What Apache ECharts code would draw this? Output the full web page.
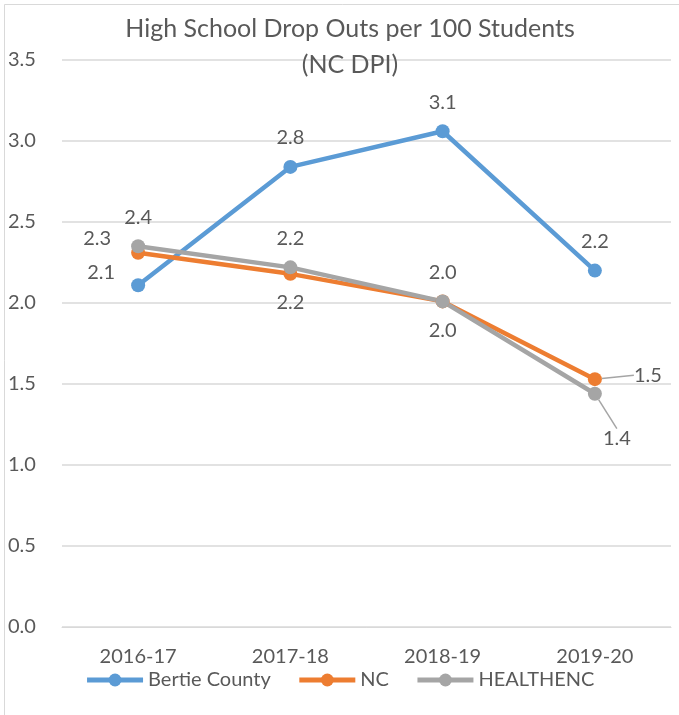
<!DOCTYPE html>
<html>
<head>
<meta charset="utf-8">
<script src="https://cdn.jsdelivr.net/npm/echarts@6/dist/echarts.min.js"></script>
<style>
  html, body { margin: 0; padding: 0; background: #fff; }
  #main { width: 679px; height: 715px; }
</style>
</head>
<body>
<div id="main"></div>
<script>
// data
const years = ['2016-17', '2017-18', '2018-19', '2019-20'];
const bertie = [2.11, 2.84, 3.06, 2.20];
const nc = [2.31, 2.18, 2.01, 1.53];
const healthenc = [2.35, 2.22, 2.01, 1.44];
const yTicks = [0, 0.5, 1.0, 1.5, 2.0, 2.5, 3.0, 3.5];

// where each point's label sits, per series
const bertiePos = ['left', 'top', 'top', 'top'];
const ncPos = ['left', 'bottom', 'bottom', 'right'];
const healthPos = ['top', 'top', 'top', 'bottom'];

const textColor = '#595959';
const font = 'Lato, "Open Sans", sans-serif';

function points(values, pos, moved) {
    return values.map((v, i) => {
        let item = { value: v, label: { position: pos[i] } };
        if (moved[i] && moved[i][2]) {
            item.labelLine = { show: true };
        }
        return item;
    });
}

// moved: per point [dx, dy, leader line?]
function makeSeries(name, values, pos, color, moved) {
    return {
        name: name,
        type: 'line',
        data: points(values, pos, moved),
        symbol: 'circle',
        symbolSize: 14,
        lineStyle: { width: 4.5, color: color },
        itemStyle: { color: color },
        label: {
            show: true,
            formatter: (p) => p.value.toFixed(1),
            color: textColor,
            fontSize: 20,
            fontFamily: font,
            distance: 12
        },
        labelLine: { show: false, lineStyle: { color: '#a5a5a5', width: 1.5 } },
        labelLayout: function (params) {
            let m = moved[params.dataIndex];
            if (m) {
                return { dx: m[0], dy: m[1] };
            }
            return {};
        },
        emphasis: { disabled: true }
    };
}

const myChart = echarts.init(document.getElementById('main'));
const option = {
    animation: false,
    backgroundColor: '#fff',
    title: {
        text: 'High School Drop Outs per 100 Students\n(NC DPI)',
        left: 345,
        textAlign: 'center',
        top: 6,
        textStyle: {
            color: textColor,
            fontSize: 25,
            fontWeight: 'normal',
            fontFamily: font,
            lineHeight: 36
        }
    },
    graphic: [{
        type: 'rect',
        shape: { x: 4.5, y: 4.5, width: 800, height: 800 },
        style: { fill: 'none', stroke: '#d9d9d9', lineWidth: 1 },
        silent: true,
        z: -1
    }],
    legend: {
        bottom: 20,
        left: 'center',
        itemWidth: 56,
        itemHeight: 16,
        itemGap: 26,
        lineStyle: { width: 5 },
        textStyle: { color: textColor, fontSize: 20, fontFamily: font },
        data: ['Bertie County', 'NC', 'HEALTHENC']
    },
    grid: { left: 62, right: 8, top: 60, bottom: 88 },
    xAxis: {
        type: 'category',
        data: years,
        axisLine: { lineStyle: { color: '#d9d9d9' } },
        axisTick: { show: false },
        axisLabel: { color: textColor, fontSize: 20, fontFamily: font, margin: 20 }
    },
    yAxis: {
        type: 'value',
        min: yTicks[0],
        max: yTicks[yTicks.length - 1],
        interval: 0.5,
        axisLine: { show: false },
        axisTick: { show: false },
        splitLine: { lineStyle: { color: '#d9d9d9', width: 1.5 } },
        axisLabel: {
            color: textColor,
            fontSize: 20,
            fontFamily: font,
            align: 'left',
            margin: 54,
            formatter: (v) => v.toFixed(1)
        }
    },
    series: [
        makeSeries('Bertie County', bertie, bertiePos, '#5b9bd5', [[-4, -13], null, null, null]),
        makeSeries('NC', nc, ncPos, '#ed7d31', [[-8, -14], null, null, [20, -4, true]]),
        makeSeries('HEALTHENC', healthenc, healthPos, '#a5a5a5', [null, null, null, [22, 16, true]])
    ]
};
myChart.setOption(option);
</script>
</body>
</html>
